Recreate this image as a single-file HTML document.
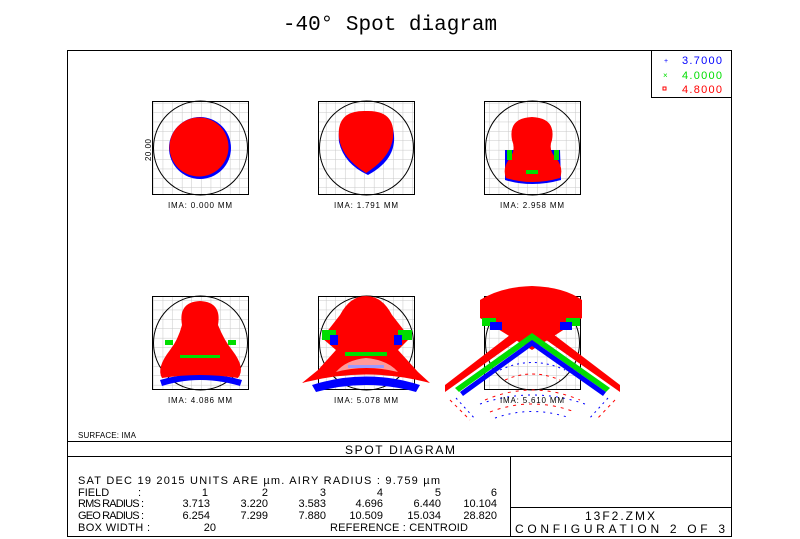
<!DOCTYPE html>
<html><head><meta charset="utf-8"><style>
html,body{margin:0;padding:0;background:#fff;}
svg{display:block;}
text{font-family:"Liberation Sans",sans-serif;}
</style></head><body>
<svg width="800" height="539" viewBox="0 0 800 539" xmlns="http://www.w3.org/2000/svg">
<defs>
<pattern id="g" x="0" y="0" width="9.6" height="9.4" patternUnits="userSpaceOnUse">
<path d="M9.6 0V9.4M0 9.4H9.6" stroke="#c8c8c8" stroke-width="1" fill="none"/>
</pattern>
</defs>
<text x="390" y="30" text-anchor="middle" style="font-family:'Liberation Mono',monospace" font-size="21">-40° Spot diagram</text>
<rect x="67.5" y="50.5" width="664" height="486" fill="none" stroke="#000"/>
<!-- legend -->
<rect x="651.5" y="50.5" width="80" height="47" fill="none" stroke="#000"/>
<text x="664" y="63" font-size="7" fill="#00f">+</text><text x="682" y="64" font-size="11" fill="#00f" textLength="40">3.7000</text>
<text x="663" y="78" font-size="8" fill="#0d0">×</text><text x="682" y="79" font-size="11" fill="#0d0" textLength="40">4.0000</text>
<rect x="663" y="87" width="3" height="3" fill="none" stroke="#f00"/><text x="682" y="93" font-size="11" fill="#f00" textLength="40">4.8000</text>

<!-- boxes -->
<g stroke="#000" fill="url(#g)">
<rect x="152.5" y="101.5" width="96" height="93"/>
<rect x="318.5" y="101.5" width="96" height="93"/>
<rect x="484.5" y="101.5" width="96" height="93"/>
<rect x="152.5" y="296.5" width="96" height="93"/>
<rect x="318.5" y="296.5" width="96" height="93"/>
<rect x="484.5" y="296.5" width="96" height="93"/>
</g>
<g stroke="#000" fill="none">
<circle cx="200.5" cy="148" r="47"/><circle cx="366.5" cy="148" r="47"/><circle cx="532.5" cy="148" r="47"/>
<circle cx="200.5" cy="343" r="47"/><circle cx="366.5" cy="343" r="47"/><circle cx="532.5" cy="343" r="47"/>
</g>
<!-- row 1 spots -->
<circle cx="200" cy="148" r="31" fill="#00f"/><circle cx="199" cy="147" r="29.5" fill="#f00"/>
<path d="M339 140 Q336 110 366 111 Q396 110 394 140 Q392 160 368 173 Q344 162 339 140Z" fill="#00f" transform="translate(0,2)"/>
<path d="M339 138 Q336 110 366 111 Q396 110 393 138 Q390 158 366 173 Q342 158 339 138Z" fill="#f00"/>
<path d="M505 150 L560 150 L561 180 Q532 188 505 180Z" fill="#00f"/>
<path d="M512 140 Q508 118 532 117 Q556 118 552 140 Q548 150 556 158 Q564 168 560 178 Q532 186 506 178 Q502 168 510 158 Q516 150 512 140Z" fill="#f00"/>
<rect x="507" y="150" width="5" height="10" fill="#0d0"/><rect x="554" y="150" width="5" height="10" fill="#0d0"/>
<rect x="526" y="170" width="12" height="4" fill="#0d0"/>
<!-- row 2 spots -->
<path d="M160 380 Q200 368 242 380 L240 386 Q200 374 162 386Z" fill="#00f"/>
<path d="M182 325 Q178 302 200 301 Q222 302 218 325 Q224 340 232 350 Q246 368 238 378 Q200 372 162 378 Q156 368 170 350 Q178 340 182 325Z" fill="#f00"/>
<g fill="#0d0"><rect x="165" y="340" width="8" height="5"/><rect x="228" y="340" width="8" height="5"/><rect x="180" y="355" width="40" height="3"/></g>
<path d="M312 385 Q366 368 420 385 L416 392 Q366 378 316 392Z" fill="#00f"/>
<path d="M340 315 Q350 296 366 296 Q382 296 392 315 L410 338 L398 350 L418 372 L430 383 Q366 366 302 383 L318 370 L336 350 L322 338Z" fill="#f00"/>
<g fill="#0d0"><rect x="322" y="330" width="14" height="10"/><rect x="398" y="330" width="14" height="10"/><rect x="345" y="352" width="42" height="4"/></g>
<g fill="#00f"><rect x="330" y="335" width="8" height="10"/><rect x="394" y="335" width="8" height="10"/><rect x="348" y="365" width="36" height="3"/></g>
<path d="M366 358 Q388 360 398 372 Q366 364 336 372 Q346 360 366 358Z" fill="#fff" opacity="0.6"/>
<!-- box 6 -->
<path d="M445 385 L532 318 L620 385 L620 392 L532 330 L445 392Z" fill="#f00"/>
<path d="M480 300 Q500 287 532 286 Q564 287 582 300 L582 318 L532 350 L480 318Z" fill="#f00"/>
<path d="M455 388 L532 333 L610 388 L606 392 L532 340 L459 392Z" fill="#0d0"/>
<path d="M460 392 L532 340 L606 392 L603 396 L532 346 L463 396Z" fill="#00f"/>
<g fill="#0d0"><rect x="482" y="318" width="14" height="8"/><rect x="566" y="318" width="14" height="8"/></g>
<g fill="#00f"><rect x="490" y="322" width="12" height="8"/><rect x="560" y="322" width="12" height="8"/></g>
<g fill="none" stroke-width="1">
<path d="M450 400 L470 420 M615 400 L596 420" stroke="#f00" stroke-dasharray="3 4"/>
<path d="M456 398 L476 420 M608 398 L588 420" stroke="#00f" stroke-dasharray="2 4"/>
<path d="M485 400 Q532 380 580 400 M490 412 Q532 396 575 412" stroke="#f00" stroke-dasharray="3 5"/>
<path d="M480 404 Q532 386 585 404 M495 418 Q532 405 570 418" stroke="#00f" stroke-dasharray="2 5"/>
<path d="M500 370 Q532 355 565 370" stroke="#00f" stroke-dasharray="2 4"/>
<path d="M505 380 Q532 368 560 380" stroke="#f00" stroke-dasharray="3 4"/>
</g>
<!-- labels -->
<g font-size="8" text-anchor="middle">
<text x="200" y="208" textLength="64">IMA: 0.000 MM</text>
<text x="366" y="208" textLength="64">IMA: 1.791 MM</text>
<text x="532" y="208" textLength="64">IMA: 2.958 MM</text>
<text x="200" y="403" textLength="64">IMA: 4.086 MM</text>
<text x="366" y="403" textLength="64">IMA: 5.078 MM</text>
<text x="532" y="403" textLength="64">IMA: 5.610 MM</text>
</g>
<text x="0" y="0" font-size="8" transform="translate(151,161) rotate(-90)" textLength="22">20.00</text>
<text x="78" y="438" font-size="8" textLength="58">SURFACE: IMA</text>
<!-- bottom panel -->
<g stroke="#000">
<line x1="67" y1="441.5" x2="732" y2="441.5"/>
<line x1="67" y1="456.5" x2="732" y2="456.5"/>
<line x1="510.5" y1="457" x2="510.5" y2="537"/>
<line x1="511" y1="507.5" x2="732" y2="507.5"/>
</g>
<text x="400" y="454" font-size="12" text-anchor="middle" textLength="110">SPOT DIAGRAM</text>
<g font-size="11">
<text x="78" y="484" textLength="362">SAT DEC 19 2015  UNITS ARE µm.  AIRY RADIUS : 9.759 µm</text>
<text x="78" y="496">FIELD</text><text x="138" y="496">:</text>
<text x="78" y="507" textLength="66">RMS RADIUS :</text>
<text x="78" y="519" textLength="66">GEO RADIUS :</text>
<text x="78" y="531" textLength="72">BOX WIDTH   :</text>
<text x="216" y="531" text-anchor="end">20</text>
<text x="330" y="531" textLength="138">REFERENCE   : CENTROID</text>
<g text-anchor="end">
<text x="208" y="496">1</text><text x="268" y="496">2</text><text x="326" y="496">3</text><text x="383" y="496">4</text><text x="441" y="496">5</text><text x="497" y="496">6</text>
<text x="210" y="507">3.713</text><text x="268" y="507">3.220</text><text x="326" y="507">3.583</text><text x="383" y="507">4.696</text><text x="441" y="507">6.440</text><text x="497" y="507">10.104</text>
<text x="210" y="519">6.254</text><text x="268" y="519">7.299</text><text x="326" y="519">7.880</text><text x="383" y="519">10.509</text><text x="441" y="519">15.034</text><text x="497" y="519">28.820</text>
</g>
</g>
<text x="620" y="520" font-size="12" text-anchor="middle" textLength="70">13F2.ZMX</text>
<text x="620" y="533" font-size="12" text-anchor="middle" textLength="210">CONFIGURATION 2 OF 3</text>
</svg>
</body></html>
